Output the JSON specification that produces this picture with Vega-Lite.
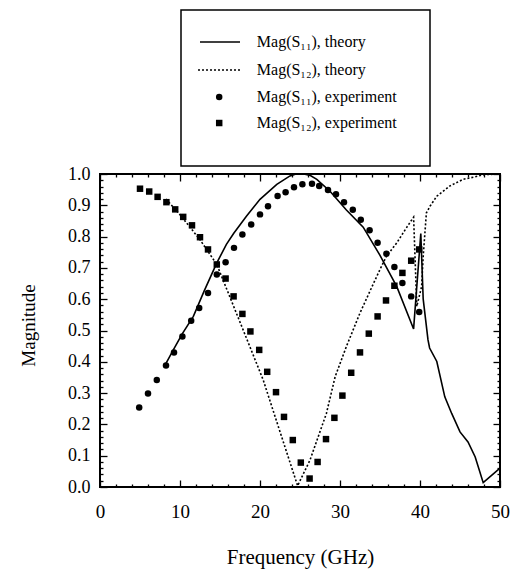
{
  "$schema": "https://vega.github.io/schema/vega-lite/v6.json",
  "width": 400,
  "height": 313,
  "autosize": "none",
  "padding": {"left": 100, "top": 174, "right": 10, "bottom": 85},
  "background": "white",
  "config": {
    "view": {"stroke": "black", "strokeWidth": 2},
    "font": "Liberation Serif",
    "axis": {
      "domain": false,
      "grid": false,
      "labelFont": "Liberation Serif",
      "titleFont": "Liberation Serif",
      "labelColor": "black",
      "titleColor": "black",
      "tickColor": "black",
      "tickWidth": 1.3,
      "titleFontWeight": "normal",
      "labelOverlap": false,
      "labelFlush": false
    }
  },
  "datasets": {
    "key": [
      {"series": "s11t", "label": "Mag(S₁₁), theory"},
      {"series": "s12t", "label": "Mag(S₁₂), theory"},
      {"series": "s11e", "label": "Mag(S₁₁), experiment"},
      {"series": "s12e", "label": "Mag(S₁₂), experiment"}
    ],
    "s11_theory": [
      {"f": 8.25, "mag": 0.395, "series": "s11t"},
      {"f": 9.2, "mag": 0.44, "series": "s11t"},
      {"f": 10.3, "mag": 0.49, "series": "s11t"},
      {"f": 11.67, "mag": 0.545, "series": "s11t"},
      {"f": 13.0, "mag": 0.625, "series": "s11t"},
      {"f": 14.6, "mag": 0.716, "series": "s11t"},
      {"f": 15.8, "mag": 0.775, "series": "s11t"},
      {"f": 16.7, "mag": 0.81, "series": "s11t"},
      {"f": 18.3, "mag": 0.865, "series": "s11t"},
      {"f": 20.0, "mag": 0.919, "series": "s11t"},
      {"f": 22.1, "mag": 0.967, "series": "s11t"},
      {"f": 23.75, "mag": 0.994, "series": "s11t"},
      {"f": 24.5, "mag": 1.0, "series": "s11t"},
      {"f": 25.5, "mag": 1.0, "series": "s11t"},
      {"f": 26.3, "mag": 0.995, "series": "s11t"},
      {"f": 27.1, "mag": 0.983, "series": "s11t"},
      {"f": 28.75, "mag": 0.945, "series": "s11t"},
      {"f": 30.8, "mag": 0.885, "series": "s11t"},
      {"f": 32.9, "mag": 0.83, "series": "s11t"},
      {"f": 35.0, "mag": 0.74, "series": "s11t"},
      {"f": 37.1, "mag": 0.64, "series": "s11t"},
      {"f": 39.2, "mag": 0.505, "series": "s11t"},
      {"f": 40.1, "mag": 0.81, "series": "s11t"},
      {"f": 40.4, "mag": 0.6, "series": "s11t"},
      {"f": 41.0, "mag": 0.47, "series": "s11t"},
      {"f": 41.2, "mag": 0.444, "series": "s11t"},
      {"f": 42.1, "mag": 0.401, "series": "s11t"},
      {"f": 43.1, "mag": 0.288, "series": "s11t"},
      {"f": 43.96, "mag": 0.235, "series": "s11t"},
      {"f": 45.0, "mag": 0.176, "series": "s11t"},
      {"f": 46.0, "mag": 0.144, "series": "s11t"},
      {"f": 46.9, "mag": 0.096, "series": "s11t"},
      {"f": 47.9, "mag": 0.014, "series": "s11t"},
      {"f": 50.0, "mag": 0.06, "series": "s11t"}
    ],
    "s12_theory": [
      {"f": 8.25, "mag": 0.92, "series": "s12t"},
      {"f": 10.0, "mag": 0.87, "series": "s12t"},
      {"f": 12.5, "mag": 0.79, "series": "s12t"},
      {"f": 14.6, "mag": 0.711, "series": "s12t"},
      {"f": 16.0, "mag": 0.622, "series": "s12t"},
      {"f": 18.0, "mag": 0.495, "series": "s12t"},
      {"f": 20.4, "mag": 0.342, "series": "s12t"},
      {"f": 22.1, "mag": 0.208, "series": "s12t"},
      {"f": 24.7, "mag": 0.004, "series": "s12t"},
      {"f": 26.25, "mag": 0.086, "series": "s12t"},
      {"f": 28.3, "mag": 0.235, "series": "s12t"},
      {"f": 29.4, "mag": 0.353, "series": "s12t"},
      {"f": 30.8, "mag": 0.449, "series": "s12t"},
      {"f": 32.5, "mag": 0.556, "series": "s12t"},
      {"f": 34.0, "mag": 0.64, "series": "s12t"},
      {"f": 35.0, "mag": 0.695, "series": "s12t"},
      {"f": 35.8, "mag": 0.737, "series": "s12t"},
      {"f": 37.1, "mag": 0.78, "series": "s12t"},
      {"f": 38.3, "mag": 0.828, "series": "s12t"},
      {"f": 39.2, "mag": 0.862, "series": "s12t"},
      {"f": 39.6, "mag": 0.577, "series": "s12t"},
      {"f": 40.2, "mag": 0.64, "series": "s12t"},
      {"f": 40.4, "mag": 0.737, "series": "s12t"},
      {"f": 40.8, "mag": 0.876, "series": "s12t"},
      {"f": 41.25, "mag": 0.897, "series": "s12t"},
      {"f": 42.1, "mag": 0.929, "series": "s12t"},
      {"f": 43.75, "mag": 0.962, "series": "s12t"},
      {"f": 45.4, "mag": 0.983, "series": "s12t"},
      {"f": 46.7, "mag": 0.99, "series": "s12t"},
      {"f": 48.0, "mag": 0.998, "series": "s12t"},
      {"f": 50.0, "mag": 1.0, "series": "s12t"}
    ],
    "s11_experiment": [
      {"f": 4.9, "mag": 0.254, "series": "s11e"},
      {"f": 6.0, "mag": 0.299, "series": "s11e"},
      {"f": 7.1, "mag": 0.342, "series": "s11e"},
      {"f": 8.25, "mag": 0.388, "series": "s11e"},
      {"f": 9.25, "mag": 0.43, "series": "s11e"},
      {"f": 10.3, "mag": 0.481, "series": "s11e"},
      {"f": 11.4, "mag": 0.531, "series": "s11e"},
      {"f": 12.4, "mag": 0.572, "series": "s11e"},
      {"f": 13.5, "mag": 0.62, "series": "s11e"},
      {"f": 14.6, "mag": 0.679, "series": "s11e"},
      {"f": 15.7, "mag": 0.718, "series": "s11e"},
      {"f": 16.75, "mag": 0.764, "series": "s11e"},
      {"f": 17.8, "mag": 0.807, "series": "s11e"},
      {"f": 18.9, "mag": 0.839, "series": "s11e"},
      {"f": 20.0, "mag": 0.871, "series": "s11e"},
      {"f": 21.0, "mag": 0.897, "series": "s11e"},
      {"f": 22.2, "mag": 0.93, "series": "s11e"},
      {"f": 23.2, "mag": 0.942, "series": "s11e"},
      {"f": 24.25, "mag": 0.958, "series": "s11e"},
      {"f": 25.3, "mag": 0.967, "series": "s11e"},
      {"f": 26.5, "mag": 0.969, "series": "s11e"},
      {"f": 27.4, "mag": 0.962, "series": "s11e"},
      {"f": 28.5, "mag": 0.949, "series": "s11e"},
      {"f": 29.5, "mag": 0.935, "series": "s11e"},
      {"f": 30.5, "mag": 0.91, "series": "s11e"},
      {"f": 31.6, "mag": 0.886, "series": "s11e"},
      {"f": 32.6, "mag": 0.854, "series": "s11e"},
      {"f": 33.7, "mag": 0.82, "series": "s11e"},
      {"f": 34.7, "mag": 0.78, "series": "s11e"},
      {"f": 35.8, "mag": 0.745, "series": "s11e"},
      {"f": 36.8, "mag": 0.703, "series": "s11e"},
      {"f": 37.8, "mag": 0.652, "series": "s11e"},
      {"f": 38.9, "mag": 0.609, "series": "s11e"},
      {"f": 39.9, "mag": 0.559, "series": "s11e"}
    ],
    "s12_experiment": [
      {"f": 5.0, "mag": 0.953, "series": "s12e"},
      {"f": 6.15, "mag": 0.944, "series": "s12e"},
      {"f": 7.2, "mag": 0.927, "series": "s12e"},
      {"f": 8.3, "mag": 0.91, "series": "s12e"},
      {"f": 9.4, "mag": 0.887, "series": "s12e"},
      {"f": 10.4, "mag": 0.863, "series": "s12e"},
      {"f": 11.5, "mag": 0.836, "series": "s12e"},
      {"f": 12.5, "mag": 0.798, "series": "s12e"},
      {"f": 13.5, "mag": 0.759, "series": "s12e"},
      {"f": 14.6, "mag": 0.711, "series": "s12e"},
      {"f": 15.7, "mag": 0.666, "series": "s12e"},
      {"f": 16.7, "mag": 0.609, "series": "s12e"},
      {"f": 17.8, "mag": 0.553, "series": "s12e"},
      {"f": 18.8, "mag": 0.497, "series": "s12e"},
      {"f": 19.9, "mag": 0.438, "series": "s12e"},
      {"f": 20.9, "mag": 0.368, "series": "s12e"},
      {"f": 22.0, "mag": 0.303, "series": "s12e"},
      {"f": 23.0, "mag": 0.224, "series": "s12e"},
      {"f": 24.1, "mag": 0.15, "series": "s12e"},
      {"f": 25.1, "mag": 0.078, "series": "s12e"},
      {"f": 26.2, "mag": 0.027, "series": "s12e"},
      {"f": 27.2, "mag": 0.08, "series": "s12e"},
      {"f": 28.25, "mag": 0.153, "series": "s12e"},
      {"f": 29.3, "mag": 0.221, "series": "s12e"},
      {"f": 30.3, "mag": 0.292, "series": "s12e"},
      {"f": 31.4, "mag": 0.365, "series": "s12e"},
      {"f": 32.5, "mag": 0.43, "series": "s12e"},
      {"f": 33.6, "mag": 0.49, "series": "s12e"},
      {"f": 34.7, "mag": 0.545, "series": "s12e"},
      {"f": 35.75, "mag": 0.596, "series": "s12e"},
      {"f": 36.8, "mag": 0.643, "series": "s12e"},
      {"f": 37.8, "mag": 0.684, "series": "s12e"},
      {"f": 38.9, "mag": 0.723, "series": "s12e"},
      {"f": 39.9, "mag": 0.759, "series": "s12e"}
    ]
  },
  "layer": [
    {
      "data": {"name": "s11_theory"},
      "mark": {"type": "line", "color": "black", "strokeWidth": 1.6},
      "encoding": {
        "x": {
          "field": "f", "type": "quantitative",
          "scale": {"domain": [0, 50], "nice": false, "zero": false},
          "axis": {"orient": "bottom", "values": [0, 10, 20, 30, 40, 50], "tickSize": -7, "labelFontSize": 19, "labelPadding": 22, "title": "Frequency (GHz)", "titleFontSize": 21, "titleY": 70, "titleBaseline": "middle"}
        },
        "y": {
          "field": "mag", "type": "quantitative",
          "scale": {"domain": [0, 1], "nice": false, "zero": false},
          "axis": {"orient": "left", "values": [0, 0.1, 0.2, 0.3, 0.4, 0.5, 0.6, 0.7, 0.8, 0.9, 1.0], "format": ".1f", "tickSize": -7, "labelFontSize": 18, "labelPadding": 17, "title": "Magnitude", "titleFontSize": 19, "titleX": -72, "titleY": 151, "titleBaseline": "middle"}
        }
      }
    },
    {
      "data": {"name": "s12_theory"},
      "mark": {"type": "line", "color": "black", "strokeWidth": 1.6, "strokeDash": [2, 2]},
      "encoding": {
        "x": {"field": "f", "type": "quantitative", "scale": {"domain": [0, 50]}, "axis": {"orient": "bottom", "values": [2,4,6,8,12,14,16,18,22,24,26,28,32,34,36,38,42,44,46,48], "tickSize": -3, "labels": false, "title": null}},
        "y": {"field": "mag", "type": "quantitative", "scale": {"domain": [0, 1]}, "axis": {"orient": "left", "values": [0.02,0.04,0.06,0.08,0.12,0.14,0.16,0.18,0.22,0.24,0.26,0.28,0.32,0.34,0.36,0.38,0.42,0.44,0.46,0.48,0.52,0.54,0.56,0.58,0.62,0.64,0.66,0.68,0.72,0.74,0.76,0.78,0.82,0.84,0.86,0.88,0.92,0.94,0.96,0.98], "tickSize": -3, "labels": false, "title": null}}
      }
    },
    {
      "data": {"name": "s11_experiment"},
      "mark": {"type": "point", "shape": "circle", "filled": true, "color": "black", "size": 42, "opacity": 1},
      "encoding": {
        "x": {"field": "f", "type": "quantitative", "scale": {"domain": [0, 50]}, "axis": {"orient": "top", "values": [0, 10, 20, 30, 40, 50], "tickSize": -7, "labels": false, "title": null}},
        "y": {"field": "mag", "type": "quantitative", "scale": {"domain": [0, 1]}, "axis": {"orient": "right", "values": [0, 0.1, 0.2, 0.3, 0.4, 0.5, 0.6, 0.7, 0.8, 0.9, 1.0], "tickSize": -7, "labels": false, "title": null}}
      }
    },
    {
      "data": {"name": "s12_experiment"},
      "mark": {"type": "point", "shape": "square", "filled": true, "color": "black", "size": 42, "opacity": 1},
      "encoding": {
        "x": {"field": "f", "type": "quantitative", "scale": {"domain": [0, 50]}, "axis": {"orient": "top", "values": [2,4,6,8,12,14,16,18,22,24,26,28,32,34,36,38,42,44,46,48], "tickSize": -3, "labels": false, "title": null}},
        "y": {"field": "mag", "type": "quantitative", "scale": {"domain": [0, 1]}, "axis": {"orient": "right", "values": [0.02,0.04,0.06,0.08,0.12,0.14,0.16,0.18,0.22,0.24,0.26,0.28,0.32,0.34,0.36,0.38,0.42,0.44,0.46,0.48,0.52,0.54,0.56,0.58,0.62,0.64,0.66,0.68,0.72,0.74,0.76,0.78,0.82,0.84,0.86,0.88,0.92,0.94,0.96,0.98], "tickSize": -3, "labels": false, "title": null}}
      }
    },
    {
      "data": {"name": "key"},
      "transform": [{"filter": "datum.series === 's11t'"}],
      "mark": {"type": "rect", "filled": false, "color": "black", "strokeWidth": 1.5},
      "encoding": {
        "x": {"datum": 10.125, "type": "quantitative", "scale": {"domain": [0, 50]}, "axis": null},
        "x2": {"datum": 41.25},
        "y": {"datum": 1.0256, "type": "quantitative", "scale": {"domain": [0, 1]}, "axis": null},
        "y2": {"datum": 1.524}
      }
    },
    {
      "data": {"name": "key"},
      "transform": [{"filter": "datum.series === 's11t'"}],
      "mark": {"type": "rule", "color": "black", "strokeWidth": 1.5},
      "encoding": {
        "x": {"datum": 12.5, "type": "quantitative", "scale": {"domain": [0, 50]}, "axis": null},
        "x2": {"datum": 17.5},
        "y": {"datum": 1.4217, "type": "quantitative", "scale": {"domain": [0, 1]}, "axis": null}
      }
    },
    {
      "data": {"name": "key"},
      "transform": [{"filter": "datum.series === 's12t'"}],
      "mark": {"type": "rule", "color": "black", "strokeWidth": 1.5, "strokeDash": [2, 2]},
      "encoding": {
        "x": {"datum": 12.25, "type": "quantitative", "scale": {"domain": [0, 50]}, "axis": null},
        "x2": {"datum": 17.5},
        "y": {"datum": 1.3323, "type": "quantitative", "scale": {"domain": [0, 1]}, "axis": null}
      }
    },
    {
      "data": {"name": "key"},
      "transform": [{"filter": "datum.series === 's11e'"}],
      "mark": {"type": "point", "shape": "circle", "filled": true, "color": "black", "size": 42, "opacity": 1},
      "encoding": {
        "x": {"datum": 14.9, "type": "quantitative", "scale": {"domain": [0, 50]}, "axis": null},
        "y": {"datum": 1.246, "type": "quantitative", "scale": {"domain": [0, 1]}, "axis": null}
      }
    },
    {
      "data": {"name": "key"},
      "transform": [{"filter": "datum.series === 's12e'"}],
      "mark": {"type": "point", "shape": "square", "filled": true, "color": "black", "size": 42, "opacity": 1},
      "encoding": {
        "x": {"datum": 14.9, "type": "quantitative", "scale": {"domain": [0, 50]}, "axis": null},
        "y": {"datum": 1.1629, "type": "quantitative", "scale": {"domain": [0, 1]}, "axis": null}
      }
    },
    {
      "data": {"name": "key"},
      "transform": [{"filter": "datum.series === 's11t'"}],
      "mark": {"type": "text", "align": "left", "baseline": "middle", "font": "Liberation Serif", "fontSize": 16, "color": "black"},
      "encoding": {
        "x": {"datum": 19.6, "type": "quantitative", "scale": {"domain": [0, 50]}, "axis": null},
        "y": {"datum": 1.4217, "type": "quantitative", "scale": {"domain": [0, 1]}, "axis": null},
        "text": {"field": "label"}
      }
    },
    {
      "data": {"name": "key"},
      "transform": [{"filter": "datum.series === 's12t'"}],
      "mark": {"type": "text", "align": "left", "baseline": "middle", "font": "Liberation Serif", "fontSize": 16, "color": "black"},
      "encoding": {
        "x": {"datum": 19.6, "type": "quantitative", "scale": {"domain": [0, 50]}, "axis": null},
        "y": {"datum": 1.3323, "type": "quantitative", "scale": {"domain": [0, 1]}, "axis": null},
        "text": {"field": "label"}
      }
    },
    {
      "data": {"name": "key"},
      "transform": [{"filter": "datum.series === 's11e'"}],
      "mark": {"type": "text", "align": "left", "baseline": "middle", "font": "Liberation Serif", "fontSize": 16, "color": "black"},
      "encoding": {
        "x": {"datum": 19.6, "type": "quantitative", "scale": {"domain": [0, 50]}, "axis": null},
        "y": {"datum": 1.246, "type": "quantitative", "scale": {"domain": [0, 1]}, "axis": null},
        "text": {"field": "label"}
      }
    },
    {
      "data": {"name": "key"},
      "transform": [{"filter": "datum.series === 's12e'"}],
      "mark": {"type": "text", "align": "left", "baseline": "middle", "font": "Liberation Serif", "fontSize": 16, "color": "black"},
      "encoding": {
        "x": {"datum": 19.6, "type": "quantitative", "scale": {"domain": [0, 50]}, "axis": null},
        "y": {"datum": 1.1629, "type": "quantitative", "scale": {"domain": [0, 1]}, "axis": null},
        "text": {"field": "label"}
      }
    }
  ],
  "resolve": {"axis": {"x": "independent", "y": "independent"}}
}
